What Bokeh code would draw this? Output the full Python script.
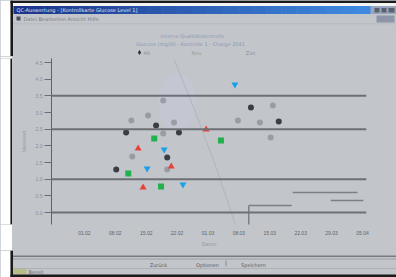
from bokeh.plotting import figure
from bokeh.layouts import column, row
from bokeh.models import FixedTicker, Span
from bokeh.core.properties import value
from bokeh.embed import file_html
from bokeh.resources import INLINE

# ---- data ----
x_ticks = [0, 1, 2, 3, 4, 5, 6, 7, 8, 9]
x_tick_labels = ["01.02", "08.02", "15.02", "22.02", "01.03", "08.03", "15.03", "22.03", "29.03", "05.04"]
y_ticks = [0, 1, 2, 3, 4, 5, 6, 7, 8, 9]
y_tick_labels = ["0.0", "0.5", "1.0", "1.5", "2.0", "2.5", "3.0", "3.5", "4.0", "4.5"]

red_x = [3.94, 1.74, 2.81, 1.90]
red_y = [4.98, 3.84, 2.76, 1.50]
green_x = [2.26, 4.42, 1.42, 2.48]
green_y = [4.44, 4.32, 2.34, 1.56]
blue_x = [4.87, 2.58, 2.03, 3.19]
blue_y = [7.68, 3.78, 2.64, 1.68]
dark_x = [1.35, 3.06, 2.68, 1.03, 5.39, 6.29, 2.32]
dark_y = [4.80, 4.80, 3.30, 2.58, 6.30, 5.46, 5.22]
gray_x = [1.52, 2.90, 2.06, 2.55, 1.55, 2.68, 4.97, 5.68, 6.03, 6.10, 2.55]
gray_y = [5.52, 5.40, 5.82, 6.72, 3.36, 2.58, 5.52, 5.40, 4.50, 6.42, 4.74]

limits = [7.0, 5.0, 2.0, 0.0]

step_x0 = [6.74, 7.97, 5.32, 5.32]
step_x1 = [8.84, 9.03, 6.71, 5.32]
step_y0 = [1.20, 0.72, 0.42, 0.42]
step_y1 = [1.20, 0.72, 0.42, -0.90]

trend_x = [2.9, 3.6, 4.3, 4.9]
trend_y = [9.2, 6.0, 2.5, -0.8]

title_lines = ["Interne Qualitätskontrolle", "Glucose (mg/dl) - Kontrolle 1 - Charge 2041"]
legend_labels = ["Alt", "Neu", "Ziel"]
button_labels = ["Zurück", "Optionen", "Speichern"]

BG = "#c2c6cb"
FONT = value("DejaVu Sans")


def chrome_fig(w, h, border="#c2c6cb"):
    f = figure(width=w, height=h, x_range=(0, w), y_range=(h, 0), output_backend="svg",
               toolbar_location=None, min_border=0, background_fill_color=BG,
               border_fill_color=border, outline_line_color=None)
    f.axis.visible = False
    f.grid.visible = False
    return f


def hex_mix(c1, c2, t):
    a = [int(c1[i:i + 2], 16) for i in (1, 3, 5)]
    b = [int(c2[i:i + 2], 16) for i in (1, 3, 5)]
    return "#%02x%02x%02x" % tuple(int(round(a[k] + (b[k] - a[k]) * t)) for k in range(3))


# ---------------- top chrome ----------------
top = chrome_fig(396, 56)
top.quad(left=[0], right=[10], top=[0], bottom=[56], fill_color="white", line_color=None)
top.quad(left=[10], right=[396], top=[0], bottom=[2.5], fill_color="#1a1a1a", line_color=None)
top.quad(left=[12], right=[396], top=[2.5], bottom=[5.5], fill_color="#f4f4f4", line_color=None)
top.quad(left=[10], right=[12.5], top=[0], bottom=[56], fill_color="#1a1a1a", line_color=None)
n = 24
lefts = [13 + i * (357 / n) for i in range(n)]
rights = [13 + (i + 1) * (357 / n) + 0.5 for i in range(n)]
cols = [hex_mix("#1c358a", "#3f8ae0", i / (n - 1)) for i in range(n)]
top.quad(left=lefts, right=rights, top=[5.5] * n, bottom=[13.5] * n, fill_color=cols, line_color=None)
top.quad(left=[370], right=[396], top=[5.5], bottom=[13.5], fill_color="#9aa6bc", line_color=None)
top.quad(left=[374, 381, 388], right=[379, 386, 394], top=[7.5] * 3, bottom=[12] * 3,
         fill_color="#5a6270", line_color=None)
top.quad(left=[376], right=[394], top=[15], bottom=[22], fill_color="#8c96a8", line_color=None)
top.text(x=[16], y=[9.5], text=["QC-Auswertung - [Kontrollkarte Glucose Level 1]"], text_font=FONT,
         text_font_size="5px", text_color="#dfe6f4", text_baseline="middle")
top.scatter(x=[18], y=[18], marker="square", size=4, fill_color="#4a4e56", line_color=None)
top.text(x=[23], y=[18], text=["Datei  Bearbeiten  Ansicht  Hilfe"], text_font=FONT,
         text_font_size="5px", text_color="#7c8088", text_baseline="middle")
top.quad(left=[12.5], right=[396], top=[23], bottom=[23.8], fill_color="#b2b6bc", line_color=None)
top.text(x=[192, 190], y=[35, 43], text=title_lines, text_font=FONT, text_font_size="5px",
         text_color="#8e98b4", text_align="center", text_baseline="middle")
top.scatter(x=[139], y=[52], marker="diamond", size=5, fill_color="#30333a", line_color=None)
top.text(x=[143, 196, 250], y=[52, 52, 52], text=legend_labels, text_font=FONT, text_font_size="5px",
         text_color=["#8a8e98", "#9a9e88", "#8a8e98"], text_align=["left", "center", "center"],
         text_baseline="middle")

# ---------------- left strip ----------------
left = chrome_fig(12, 194, border="white")
left.quad(left=[0], right=[10], top=[0], bottom=[194], fill_color="white", line_color=None)
left.quad(left=[10], right=[12], top=[0], bottom=[194], fill_color="#1a1a1a", line_color=None)

# ---------------- main chart ----------------
p = figure(width=384, height=194, x_range=(-1.065, 9.13), y_range=(-0.72, 9.24),
           output_backend="svg", toolbar_location=None,
           min_border_left=39, min_border_right=30, min_border_top=2, min_border_bottom=26,
           background_fill_color=BG, border_fill_color=BG, outline_line_color=None)
p.grid.visible = False

p.yaxis.ticker = FixedTicker(ticks=y_ticks)
p.yaxis.major_label_overrides = {t: l for t, l in zip(y_ticks, y_tick_labels)}
p.yaxis.axis_line_color = "#5e6268"
p.yaxis.major_tick_line_color = "#6a6e74"
p.yaxis.major_tick_out = 7
p.yaxis.major_tick_in = 0
p.yaxis.minor_tick_line_color = None
p.yaxis.major_label_text_font_size = "5px"
p.yaxis.major_label_text_color = "#8a8e98"
p.yaxis.major_label_standoff = 2
p.yaxis.axis_label = "Messwert"
p.yaxis.axis_label_text_font_size = "5px"
p.yaxis.axis_label_text_font_style = "normal"
p.yaxis.axis_label_text_color = "#959aa4"
p.yaxis.axis_label_standoff = 6

p.xaxis.ticker = FixedTicker(ticks=x_ticks)
p.xaxis.major_label_overrides = {t: l for t, l in zip(x_ticks, x_tick_labels)}
p.xaxis.axis_line_color = None
p.xaxis.major_tick_line_color = None
p.xaxis.major_tick_out = 0
p.xaxis.major_tick_in = 0
p.xaxis.minor_tick_line_color = None
p.xaxis.minor_tick_out = 0
p.xaxis.major_label_text_font_size = "5px"
p.xaxis.major_label_text_color = "#5e626a"
p.xaxis.major_label_standoff = 6
p.xaxis.axis_label = "Datum"
p.xaxis.axis_label_text_font_size = "5px"
p.xaxis.axis_label_text_font_style = "normal"
p.xaxis.axis_label_text_color = "#959aa4"
p.xaxis.axis_label_standoff = 3

p.ellipse(x=[3.0], y=[6.6], width=1.2, height=3.6, fill_color="#cacbe0", fill_alpha=0.3, line_color=None)
p.line(trend_x, trend_y, line_color="#b0b4bc", line_width=1)

for v in limits:
    p.add_layout(Span(location=v, dimension="width", line_color="#6c7076", line_width=2))

p.segment(x0=step_x0, y0=step_y0, x1=step_x1, y1=step_y1, line_color="#7c8086", line_width=1.5)

p.scatter(gray_x, gray_y, marker="circle", size=6, fill_color="#8e9298", line_color=None, fill_alpha=0.8)
p.scatter(dark_x, dark_y, marker="circle", size=6, fill_color="#3a3d44", line_color=None)
p.scatter(red_x, red_y, marker="triangle", size=7, fill_color="#e8413a", line_color=None)
p.scatter(green_x, green_y, marker="square", size=6, fill_color="#22b24c", line_color=None)
p.scatter(blue_x, blue_y, marker="inverted_triangle", size=7, fill_color="#1aa0e6", line_color=None)

# ---------------- bottom chrome ----------------
bot = chrome_fig(396, 27)
bot.quad(left=[0], right=[10], top=[0], bottom=[27], fill_color="white", line_color=None)
bot.quad(left=[10], right=[12.5], top=[0], bottom=[27], fill_color="#1a1a1a", line_color=None)
bot.quad(left=[12.5], right=[396], top=[5], bottom=[6.5], fill_color="#767a80", line_color=None)
bot.quad(left=[12.5], right=[396], top=[8], bottom=[9], fill_color="#9a9ea4", line_color=None)
bot.quad(left=[225, 272], right=[226, 273], top=[10], bottom=[16], fill_color="#8a8e94", line_color=None)
bot.text(x=[158, 207, 253], y=[14, 14, 14], text=button_labels, text_font=FONT, text_font_size="5px",
         text_color="#55595f", text_align="center", text_baseline="middle")
bot.quad(left=[12.5], right=[396], top=[17.5], bottom=[18.3], fill_color="#a6aab0", line_color=None)
bot.quad(left=[13], right=[26], top=[18.5], bottom=[23.5], fill_color="#b8bc88", line_color=None)
bot.text(x=[28], y=[21], text=["Bereit"], text_font=FONT, text_font_size="5px",
         text_color="#6a6e74", text_baseline="middle")
bot.quad(left=[10], right=[396], top=[24], bottom=[27], fill_color="#1a1a1a", line_color=None)

mid = row(left, p, spacing=0, styles={"background-color": BG})
layout = column(top, mid, bot, spacing=0, styles={"background-color": BG})
open("out.html", "w").write(file_html(layout, INLINE))
